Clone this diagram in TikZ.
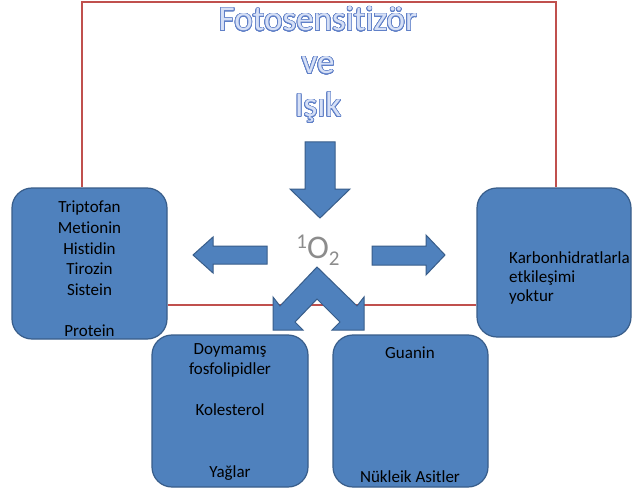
\documentclass[tikz,border=0pt]{standalone}
\usepackage{fontspec}
\setmainfont{Carlito}[Ligatures=NoCommon]
\usepackage{contour}
\contourlength{0.7pt}
\contournumber{32}
\usetikzlibrary{backgrounds}
\definecolor{boxfill}{RGB}{79,129,189}
\definecolor{boxborder}{RGB}{56,93,138}
\definecolor{framered}{RGB}{192,80,77}
\definecolor{titlefill}{RGB}{214,224,246}
\definecolor{titleedge}{RGB}{96,128,200}
\definecolor{otext}{RGB}{140,140,140}
\newcommand\titleline[1]{\contour{titleedge}{\textcolor{titlefill}{#1}}}
\tikzset{
  box/.style={draw=boxborder, fill=boxfill, line width=1.2pt, rounded corners=20pt, inner sep=0pt},
  boxtext/.style={font=\fontsize{17}{20.6}\selectfont, text=black, inner sep=0pt},
  blockarrow/.style={draw=boxborder, fill=boxfill, line width=1pt, line join=miter},
  redline/.style={draw=framered, line width=1.5pt}
}
\begin{document}
\begin{tikzpicture}[x=1pt,y=-1pt]
\useasboundingbox (0,0) rectangle (632,492);
% boxes
\node[box, minimum width=155pt, minimum height=151pt] (protein) at (89.5,263.5) {};
\node[box, minimum width=154pt, minimum height=149pt] (karb) at (554,262.5) {};
\node[box, minimum width=156pt, minimum height=152pt] (lipid) at (230,411) {};
\node[box, minimum width=155pt, minimum height=152pt] (nucl) at (410.5,411) {};
% red frame lines
\coordinate (tl) at (82,2);
\coordinate (tr) at (556,2);
\coordinate (mid) at (320,305);
\begin{scope}[on background layer]
\fill[white] (0,0) rectangle (632,492);
\draw[redline] (protein.north -| tl) -- (tl) -- (tr) -- (karb.north -| tr);
\draw[redline] (protein.east |- mid) -- (karb.west |- mid);
\end{scope}
% box texts
\node[boxtext, align=center] (ptext) at (89.5,269) {Triptofan\\Metionin\\Histidin\\Tirozin\\Sistein\\[20.6pt]Protein};
\node[boxtext, align=left, anchor=west, font=\fontsize{17}{19}\selectfont] (ktext) at (509,278) {Karbonhidratlarla\\etkileşimi\\yoktur};
\node[boxtext, align=center] (ltext) at (230,412) {Doymamış\\fosfolipidler\\[20.6pt]Kolesterol\\[41.2pt]Yağlar};
\node[boxtext, align=center] (ntext) at (410,415) {Guanin\\[103pt]Nükleik Asitler};
% title
\node[font=\fontsize{35}{43}\selectfont, align=center, inner sep=0pt] (title) at (318,65)
  {\titleline{Fotosensitizör}\\\titleline{ve}\\\titleline{Işık}};
% singlet oxygen
\node[text=otext, inner sep=0pt] (o2) at (318,250)
  {\fontsize{33}{33}\selectfont\raisebox{0.33em}{\fontsize{21}{21}\selectfont 1}O\raisebox{-0.2em}{\fontsize{21}{21}\selectfont 2}};
% block arrows
\draw[blockarrow] (305,142) -- (335,142) -- (335,189) -- (350,189) -- (320,218) -- (290,189) -- (305,189) -- cycle;
\draw[blockarrow] (267,246) -- (267,264) -- (213,264) -- (213,273) -- (193,255) -- (213,237) -- (213,246) -- cycle;
\draw[blockarrow] (372,246) -- (372,265) -- (426,265) -- (426,275) -- (445,255) -- (426,235) -- (426,246) -- cycle;
\draw[blockarrow] (317,267) -- (357,306) -- (364,297) -- (364,330) -- (332,330) -- (340,322) -- (317,299)
  -- (295,322) -- (303,330) -- (273,330) -- (273,297) -- (280,306) -- cycle;
\end{tikzpicture}
\end{document}
